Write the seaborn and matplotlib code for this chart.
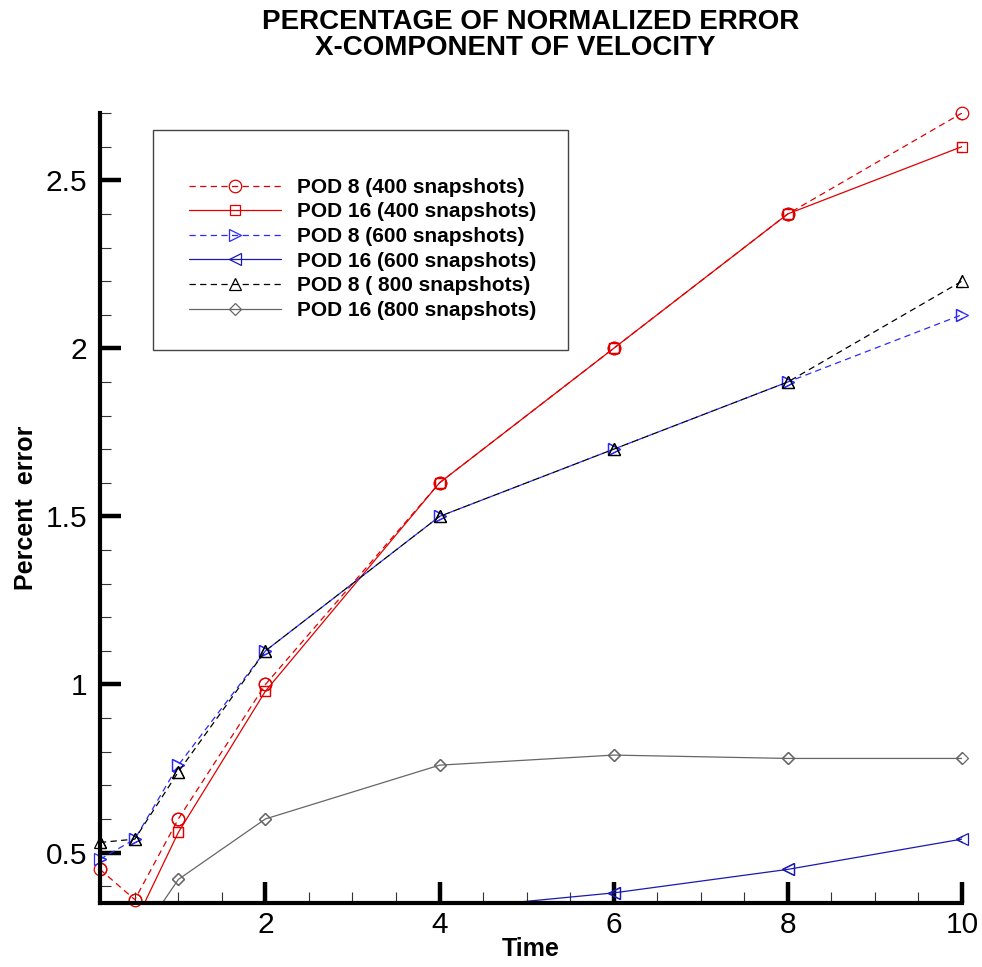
import numpy as np
import pandas as pd
import matplotlib
matplotlib.use("Agg")
import matplotlib.pyplot as plt
from matplotlib.patches import Rectangle
from matplotlib.ticker import MultipleLocator
import seaborn as sns

# Datos
time = [0.1, 0.5, 1, 2, 4, 6, 8, 10]
pod8_400 = [0.45, 0.36, 0.60, 1.00, 1.60, 2.00, 2.40, 2.70]
pod16_400 = [0.30, 0.29, 0.56, 0.98, 1.60, 2.00, 2.40, 2.60]
pod8_600 = [0.48, 0.54, 0.76, 1.10, 1.50, 1.70, 1.90, 2.10]
pod16_600 = [0.20, 0.22, 0.25, 0.30, 0.33, 0.38, 0.45, 0.54]
pod8_800 = [0.53, 0.54, 0.74, 1.10, 1.50, 1.70, 1.90, 2.20]
pod16_800 = [0.20, 0.23, 0.42, 0.60, 0.76, 0.79, 0.78, 0.78]

labels = ["POD 8 (400 snapshots)", "POD 16 (400 snapshots)",
          "POD 8 (600 snapshots)", "POD 16 (600 snapshots)",
          "POD 8 ( 800 snapshots)", "POD 16 (800 snapshots)"]
series = [pod8_400, pod16_400, pod8_600, pod16_600, pod8_800, pod16_800]

# estilo de cada serie: color, linea, marcador, tamano
styles = [
    ("#e00000", "--", "o", 9),
    ("#e00000", "-", "s", 7),
    ("#2a2aff", "--", ">", 8),
    ("#1a1ab0", "-", "<", 8),
    ("#000000", "--", "^", 8),
    ("#666666", "-", "D", 6.5),
]

YMIN, YMAX = 0.35, 2.7

df = pd.DataFrame({"Time": np.repeat([time], len(series), axis=0).ravel(),
                   "value": np.concatenate(series),
                   "serie": np.repeat(labels, len(time))})

sns.set_style("ticks")
plt.rcParams['font.family'] = ['Liberation Sans', 'DejaVu Sans']
for k in ['text.color', 'axes.labelcolor', 'xtick.color', 'ytick.color']:
    plt.rcParams[k] = 'black'

fig = plt.figure(figsize=(9.82, 9.67), dpi=100)
ax = fig.add_axes([0.1018, 0.0662, 0.8778, 0.8169])

for lab, (col, ls, mk, ms) in zip(labels, styles):
    d = df[df["serie"] == lab]
    sns.lineplot(data=d, x="Time", y="value", ax=ax, color=col,
                 linestyle=ls, dashes=False, marker=mk, markersize=ms,
                 mfc="none", mec=col, mew=0.9, linewidth=0.9, label=lab,
                 legend=False)
    if ls == "--":
        ax.lines[-1].set_dashes((5, 3.5))
    # marcadores en el borde sin recortar (como en Tecplot)
    dv = d[d["value"] >= YMIN]
    sns.lineplot(data=dv, x="Time", y="value", ax=ax, color=col,
                 linestyle="none", marker=mk, markersize=ms, mfc="none",
                 mec=col, mew=0.9, legend=False, clip_on=False)

ax.set_xlim(0.1, 10)
ax.set_ylim(YMIN, YMAX)
ax.xaxis.set_minor_locator(MultipleLocator(0.5))
ax.yaxis.set_minor_locator(MultipleLocator(0.1))
ax.set_xticks([2, 4, 6, 8, 10])
ax.set_xticklabels(["2", "4", "6", "8", "10"])
ax.set_yticks([0.5, 1, 1.5, 2, 2.5])
ax.set_yticklabels(["0.5", "1", "1.5", "2", "2.5"])

ax.tick_params(which="major", direction="in", length=15, width=3.2,
               labelsize=21.5, color="black", pad=6)
ax.tick_params(which="minor", direction="in", length=8, width=0.8,
               color="#333333")
ax.tick_params(axis="y", which="major", pad=9)

for s in ["top", "right"]:
    ax.spines[s].set_visible(False)
for s in ["left", "bottom"]:
    ax.spines[s].set_linewidth(3.0)
    ax.spines[s].set_color("black")

ax.set_xlabel("Time", fontsize=18, fontweight="bold", labelpad=-2)
ax.set_ylabel("Percent  error", fontsize=18, fontweight="bold", labelpad=6)
ax.set_title("PERCENTAGE OF NORMALIZED ERROR\nX-COMPONENT OF VELOCITY    ",
             fontsize=20, fontweight="bold", pad=42, linespacing=0.98)

# caja de la leyenda
ax.add_patch(Rectangle((0.0615, 0.700), 0.4814, 0.2785,
                       transform=ax.transAxes, facecolor="white",
                       edgecolor="#444444", linewidth=1.0, zorder=4))
leg = ax.legend(loc="upper left", bbox_to_anchor=(0.1032, 0.918),
                prop={"weight": "bold", "size": 15},
                frameon=False, borderpad=0, borderaxespad=0,
                handlelength=4.4, handletextpad=0.8, labelspacing=0.27,
                numpoints=1)
leg.set_zorder(5)

fig.savefig("out.png", dpi=100)
